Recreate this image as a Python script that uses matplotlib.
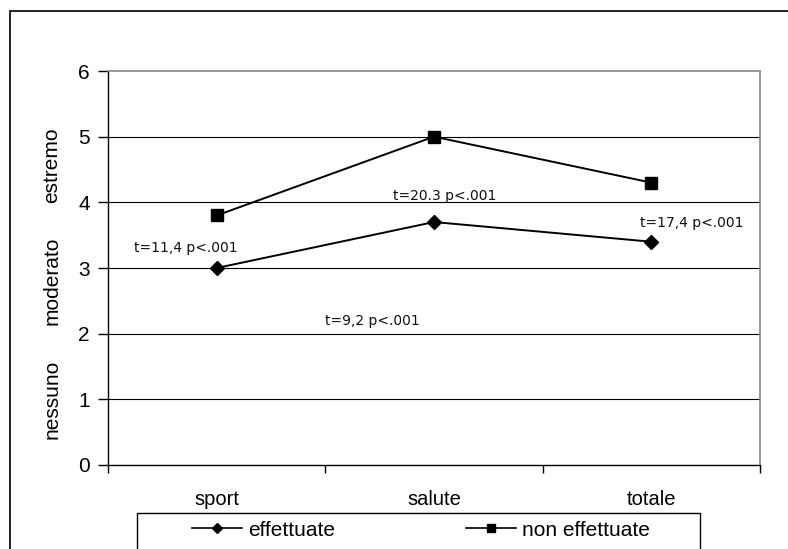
import matplotlib.pyplot as plt
import numpy as np
from matplotlib.patches import Rectangle
from matplotlib.transforms import blended_transform_factory

plt.rcParams["font.family"] = "Liberation Sans"

categories = ["sport", "salute", "totale"]
effettuate = [3.0, 3.7, 3.4]
non_effettuate = [3.8, 5.0, 4.3]
t_labels = ["t=11,4 p<.001", "t=20.3 p<.001", "t=17,4 p<.001", "t=9,2 p<.001"]
level_names = ["nessuno", "moderato", "estremo"]
level_pos = [1.0, 2.8, 4.57]

W, H = 788, 549
fig = plt.figure(figsize=(W / 100, H / 100), dpi=100)
ax = fig.add_axes([108 / W, 1 - 465 / H, (760 - 108) / W, (465 - 71) / H])

# outer chart frame (runs past the right and bottom edge)
fig.patches.append(Rectangle((10 / W, -0.1), 1.2, 1 - 11 / H + 0.1, transform=fig.transFigure,
                             fill=False, edgecolor="black", linewidth=1.2))

x = np.arange(len(categories))
ax.plot(x, effettuate, color="black", linewidth=1.4, marker="D", markersize=7, label="effettuate")
ax.plot(x, non_effettuate, color="black", linewidth=1.4, marker="s", markersize=8, label="non effettuate")

ax.set_xlim(-0.5, len(categories) - 0.5)
ax.set_ylim(0, 6)
ax.set_yticks(range(7))
ax.set_yticklabels([str(i) for i in range(7)], fontsize=15)
ax.set_xticks(x)
ax.set_xticklabels(categories, fontsize=14.5)
ax.tick_params(axis="x", length=0, pad=18)
ax.tick_params(axis="y", length=7, width=1, direction="out", pad=6)

# category separators on the x axis
ax.set_xticks(np.arange(-0.5, len(categories)), minor=True)
ax.tick_params(axis="x", which="minor", length=6, width=1, direction="out")

for yv in range(1, 6):
    ax.axhline(yv, color="black", linewidth=0.8, zorder=0)
ax.spines["top"].set_color("#888888")
ax.spines["right"].set_color("#888888")
ax.spines["top"].set_linewidth(1.2)
ax.spines["right"].set_linewidth(1.2)
ax.spines["left"].set_linewidth(1.0)
ax.spines["bottom"].set_linewidth(1.0)

# t-test annotations
ann_font = dict(fontsize=10, family="DejaVu Sans", color="#111111")
ax.text(-0.38, 3.3, t_labels[0], ha="left", va="center", **ann_font)
ax.text(1.05, 4.1, t_labels[1], ha="center", va="center", **ann_font)
ax.text(1.95, 3.69, t_labels[2], ha="left", va="center", **ann_font)
ax.text(0.5, 2.2, t_labels[3], ha="left", va="center", **ann_font)

# level names alongside the y axis
trans = blended_transform_factory(fig.transFigure, ax.transData)
for name, pos in zip(level_names, level_pos):
    fig.text(52 / W, pos, name, rotation=90, ha="center", va="center",
             fontsize=15, transform=trans)

# legend without its own frame; a wider box is drawn around it
leg = fig.legend(loc="center", bbox_to_anchor=(421 / W, 1 - 530 / H), ncol=2,
                 frameon=False, fontsize=15, handlelength=2.4,
                 columnspacing=6.3, borderpad=0.0, handletextpad=0.3, markerscale=0.75)
for line in leg.get_lines():
    line.set_linewidth(1.2)
fig.patches.append(Rectangle((137 / W, -0.05), (700 - 137) / W, 0.05 + 1 - 513 / H,
                             transform=fig.transFigure, fill=False,
                             edgecolor="black", linewidth=1.0))

fig.savefig("out.png", dpi=100)
